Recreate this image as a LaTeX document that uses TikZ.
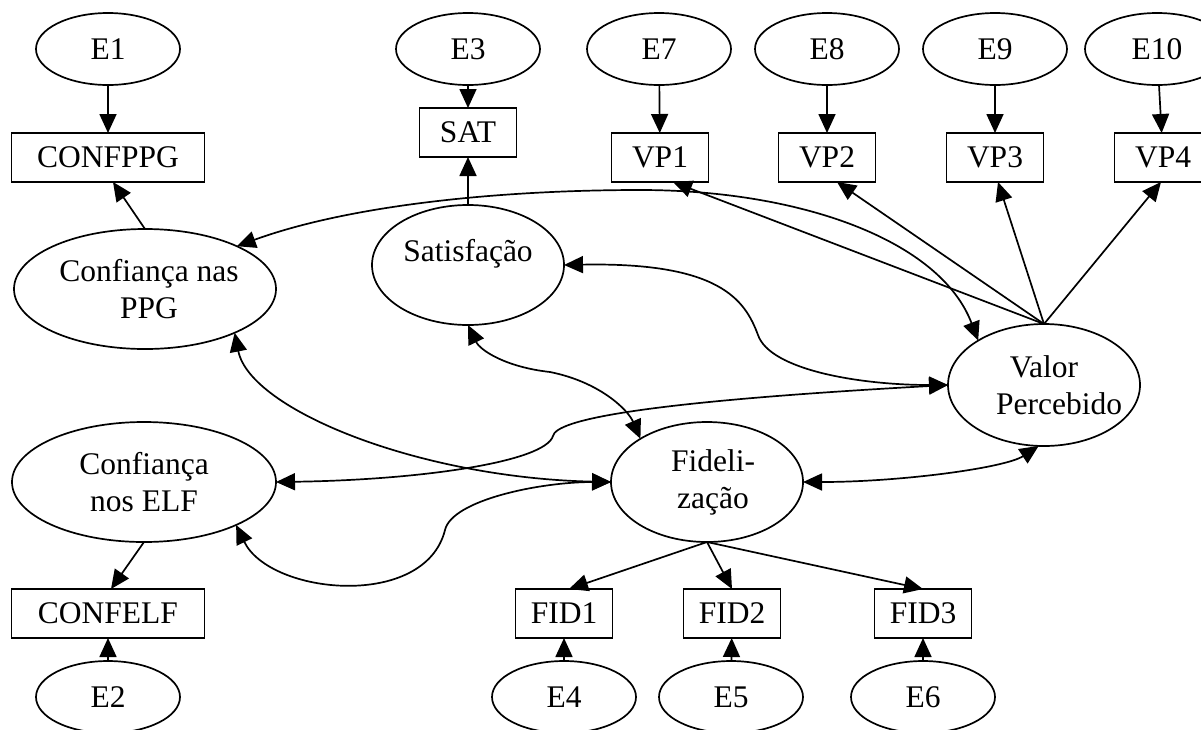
\documentclass[tikz,border=0pt]{standalone}
\usepackage{fontspec}
\setmainfont{Liberation Serif}
\usetikzlibrary{shapes.geometric,arrows.meta,calc}
\newcommand{\shiftx}[2]{\hspace*{#1}#2\hspace*{-#1}}
\begin{document}
\begin{tikzpicture}[x=1pt,y=-1pt,
  font=\fontsize{31.5}{37}\selectfont,
  every node/.style={inner sep=0pt, outer sep=0pt},
  errnode/.style={ellipse, draw, line width=1.7pt, minimum width=144pt, minimum height=72pt},
  latnode/.style={ellipse, draw, line width=1.7pt, minimum width=192pt, minimum height=120pt, align=center},
  obsnode/.style={rectangle, draw, line width=1.7pt, minimum width=97pt, minimum height=49pt},
  arr/.style={-{Triangle[length=19pt,width=17pt]}, line width=1.7pt},
  cov/.style={{Triangle[length=19pt,width=17pt]}-{Triangle[length=19pt,width=17pt]}, line width=1.7pt},
]
\useasboundingbox (0,0) rectangle (1201,729);
\clip (0,0) rectangle (1201,729);

% error terms, top row
\node[errnode] (e1) at (108,49) {E1};
\node[errnode] (e3) at (468,49) {E3};
\node[errnode] (e7) at (659,49) {E7};
\node[errnode] (e8) at (827,49) {E8};
\node[errnode] (e9) at (995,49) {E9};
\node[errnode] (e10) at (1157,49) {E10};

% observed variables, top
\node[obsnode, minimum width=193pt] (confppg) at (108,157.5) {CONFPPG};
\node[obsnode] (satobs) at (468,132.5) {SAT};
\node[obsnode] (vp1) at (660,157.5) {VP1};
\node[obsnode] (vp2) at (827,157.5) {VP2};
\node[obsnode] (vp3) at (995,157.5) {VP3};
\node[obsnode] (vp4) at (1163,157.5) {VP4};

% latent variables
\node[latnode, minimum width=262pt] (ppg) at (145,289) {\shiftx{4pt}{Confiança nas}\\\shiftx{4pt}{PPG}};
\node[latnode] (sat) at (468,265) {\raisebox{30pt}{Satisfação}};
\node[latnode, minimum height=122pt] (vp) at (1044,385) {Valor\\\shiftx{15pt}{Percebido}};
\node[latnode, minimum width=264pt] (elf) at (144,482) {Confiança\\nos ELF};
\node[latnode] (fid) at (707,482) {\shiftx{6pt}{Fideli-}\\\shiftx{6pt}{zação}};

% observed variables, bottom
\node[obsnode, minimum width=193pt] (confelf) at (108,613.5) {CONFELF};
\node[obsnode] (fid1) at (564,613.5) {FID1};
\node[obsnode] (fid2) at (732,613.5) {FID2};
\node[obsnode] (fid3) at (923,613.5) {FID3};

% error terms, bottom row
\node[errnode] (e2) at (108,697) {E2};
\node[errnode] (e4) at (564,697) {E4};
\node[errnode] (e5) at (731,697) {E5};
\node[errnode] (e6) at (923,697) {E6};

% straight arrows
\draw[arr] (e1) -- (confppg);
\draw[arr] (ppg.north) -- ($(confppg.south)+(5,0)$);
\draw[arr] (e3) -- (satobs);
\draw[arr] (sat.north) -- (satobs.south);
\draw[arr] (e7) -- (vp1);
\draw[arr] (e8) -- (vp2);
\draw[arr] (e9) -- (vp3);
\draw[arr] (e10) -- (vp4);
\draw[arr] (vp.north) -- ($(vp1.south)+(13,0)$);
\draw[arr] (vp.north) -- ($(vp2.south)+(10,0)$);
\draw[arr] (vp.north) -- ($(vp3.south)+(3,0)$);
\draw[arr] (vp.north) -- ($(vp4.south)+(-2,0)$);
\draw[arr] (elf.south) -- ($(confelf.north)+(3,0)$);
\draw[arr] (e2) -- (confelf);
\draw[arr] (fid.south) -- ($(fid1.north)+(5,0)$);
\draw[arr] (fid.south) -- (fid2.north);
\draw[arr] (fid.south) -- (fid3.north);
\draw[arr] (e4) -- (fid1);
\draw[arr] (e5) -- (fid2);
\draw[arr] (e6) -- (fid3);

% covariances
\draw[cov] (ppg.25) .. controls (350,205) and (500,190) .. (640,190)
  .. controls (800,190) and (940,240) .. (vp.146);
\draw[cov] (sat.east) .. controls (720,262) and (745,300) .. (758,335)
  .. controls (770,370) and (860,385) .. (vp.west);
\draw[cov] (sat.south) .. controls (480,350) and (505,367) .. (550,372)
  .. controls (600,382) and (628,410) .. (fid.147);
\draw[cov] (ppg.-26) .. controls (250,410) and (420,478) .. (fid.west);
\draw[cov] (elf.east) .. controls (420,480) and (545,462) .. (553,436)
  .. controls (556,420) and (640,402) .. (vp.west);
\draw[cov] (elf.-25) .. controls (270,595) and (425,610) .. (445,530)
  .. controls (452,500) and (540,482) .. (fid.west);
\draw[cov] (fid.east) .. controls (900,482) and (1005,468) .. (vp.-95);
\end{tikzpicture}
\end{document}
